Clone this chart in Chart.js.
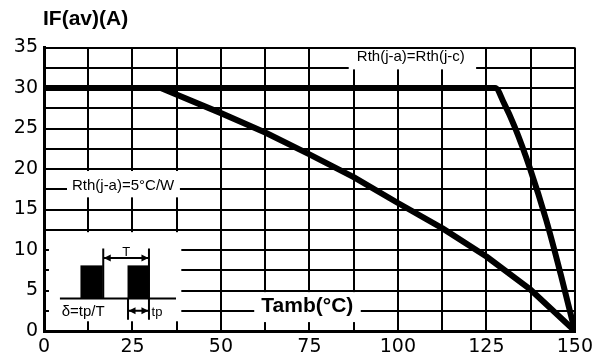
<!DOCTYPE html>
<html>
<head>
<meta charset="utf-8">
<title>IF(av) vs Tamb</title>
<script src="https://cdn.jsdelivr.net/npm/chart.js@4.4.1/dist/chart.umd.min.js"></script>
<style>
    html, body { margin: 0; padding: 0; background: #fff; }
    #wrap { width: 598px; height: 362px; position: relative; }
</style>
</head>
<body>
<div id="wrap"><canvas id="derating"></canvas></div>
<script>
// Kurva derating: Rth(j-a)=Rth(j-c)
var tambInfinite = [0, 127.5, 130, 133, 137.3, 141.9, 146, 150];
var ifInfinite = [30, 30, 28.1, 25.2, 20.1, 13.7, 7, 0];

// Kurva derating: Rth(j-a)=5°C/W
var tambRth5 = [0, 33, 50, 62.5, 75, 87.5, 100, 112.5, 125, 137.5, 150];
var ifRth5 = [30, 30, 26.9, 24.5, 21.8, 19, 15.8, 12.7, 9.2, 5.1, 0];

// Label sumbu
var xTickLabels = [0, 25, 50, 75, 100, 125, 150];
var yTickLabels = [0, 5, 10, 15, 20, 25, 30, 35];

var FONT = '"Liberation Sans", Arial, sans-serif';
var TICK_FONT = '"DejaVu Sans", sans-serif';

function toPoints(xs, ys) {
    return xs.map(function (x, i) {
        return { x: x, y: ys[i] };
    });
}

// Kotak putih + teks + diagram pulsa, digambar di atas grid tapi di bawah kurva
var annotations = {
    id: "annotations",
    beforeDatasetsDraw: function (chart) {
        var ctx = chart.ctx;
        var xs = chart.scales.x;
        var ys = chart.scales.y;
        var px = function (v) { return xs.getPixelForValue(v); };
        var py = function (v) { return ys.getPixelForValue(v); };

        ctx.save();
        ctx.fillStyle = "#fff";
        // area kosong di balik teks dan diagram
        ctx.fillRect(px(86.1), py(35) + 1.5, px(122.1) - px(86.1), py(32.3) - py(35) - 1.5);
        ctx.fillRect(px(6.5), py(19.75), px(38.4) - px(6.5), py(16.5) - py(19.75));
        ctx.fillRect(px(59.4), py(4.8), px(89.5) - px(59.4), py(1.1) - py(4.8));
        ctx.fillRect(px(1.4), py(12.2), px(38.8) - px(1.4), py(1.2) - py(12.2));

        ctx.fillStyle = "#000";
        ctx.textBaseline = "alphabetic";
        ctx.textAlign = "left";
        ctx.font = "15px " + FONT;
        ctx.fillText("Rth(j-a)=Rth(j-c)", px(88.4), py(33.3));
        ctx.fillText("Rth(j-a)=5°C/W", px(7.9), py(17.4));

        ctx.font = "bold 21px " + FONT;
        ctx.fillText("Tamb(°C)", px(61.4), py(2.4));
        ctx.fillText("IF(av)(A)", chart.chartArea.left - 1, chart.chartArea.top - 22.5);

        // diagram pulsa
        ctx.strokeStyle = "#000";
        ctx.lineWidth = 2;
        var base = py(4.0);
        var top = py(8.1);
        ctx.beginPath();
        ctx.moveTo(px(4.5), base);
        ctx.lineTo(px(37.3), base);
        ctx.stroke();
        ctx.fillRect(px(10.3), top, px(16.6) - px(10.3), base - top);
        ctx.fillRect(px(23.6), top, px(29.8) - px(23.6), base - top);

        ctx.beginPath();
        ctx.moveTo(px(16.6) + 0.5, py(10.2));
        ctx.lineTo(px(16.6) + 0.5, base);
        ctx.moveTo(px(29.8) - 0.5, py(10.2));
        ctx.lineTo(px(29.8) - 0.5, py(1.4));
        ctx.moveTo(px(23.6) + 0.5, base);
        ctx.lineTo(px(23.6) + 0.5, py(1.4));
        ctx.stroke();

        arrow(ctx, px(16.6) + 1, px(29.8) - 1, py(9.0));
        arrow(ctx, px(23.6) + 1, px(29.8) - 1, py(2.5));

        ctx.font = "13px " + FONT;
        ctx.textAlign = "center";
        ctx.fillText("T", px(23.2), py(9.3));
        ctx.textAlign = "left";
        ctx.fillText("tp", px(30.4), py(1.9));
        ctx.font = "15px " + FONT;
        ctx.fillText("δ=tp/T", px(5.0), py(1.8));
        ctx.restore();
    },
};

// panah dua arah horizontal
function arrow(ctx, x1, x2, y) {
    ctx.beginPath();
    ctx.moveTo(x1, y);
    ctx.lineTo(x2, y);
    ctx.stroke();
    ctx.beginPath();
    ctx.moveTo(x1, y);
    ctx.lineTo(x1 + 7, y - 3.5);
    ctx.lineTo(x1 + 7, y + 3.5);
    ctx.closePath();
    ctx.moveTo(x2, y);
    ctx.lineTo(x2 - 7, y - 3.5);
    ctx.lineTo(x2 - 7, y + 3.5);
    ctx.closePath();
    ctx.fill();
}

var ctx = document.getElementById("derating").getContext("2d");
var chart = new Chart(ctx, {
    type: "scatter",
    data: {
        datasets: [
            {
                label: "Rth(j-a)=Rth(j-c)",
                data: toPoints(tambInfinite, ifInfinite),
                showLine: true,
                borderColor: "#000",
                borderWidth: 6,
                borderJoinStyle: "round",
                cubicInterpolationMode: "monotone",
                pointRadius: 0,
            },
            {
                label: "Rth(j-a)=5°C/W",
                data: toPoints(tambRth5, ifRth5),
                showLine: true,
                borderColor: "#000",
                borderWidth: 6,
                borderJoinStyle: "round",
                tension: 0,
                pointRadius: 0,
            },
        ],
    },
    options: {
        responsive: true,
        maintainAspectRatio: false,
        animation: false,
        layout: {
            padding: { top: 47.5, right: 21, left: 0, bottom: 0 },
        },
        plugins: {
            legend: { display: false },
            tooltip: { enabled: false },
        },
        scales: {
            x: {
                type: "linear",
                min: 0,
                max: 150,
                afterFit: function (scale) { scale.height = 31; },
                ticks: {
                    stepSize: 12.5,
                    autoSkip: false,
                    maxRotation: 0,
                    padding: 5,
                    color: "#000",
                    font: { family: TICK_FONT, size: 19 },
                    callback: function (v) {
                        return xTickLabels.indexOf(v) >= 0 ? String(v) : "";
                    },
                },
                grid: { color: "#000", lineWidth: 2, drawTicks: false },
                border: { color: "#000", width: 3 },
            },
            y: {
                min: 0,
                max: 35,
                afterFit: function (scale) { scale.width = 44; },
                ticks: {
                    stepSize: 2.5,
                    autoSkip: false,
                    padding: 6,
                    color: "#000",
                    font: { family: TICK_FONT, size: 19 },
                    callback: function (v) {
                        return yTickLabels.indexOf(v) >= 0 ? String(v) : "";
                    },
                },
                grid: { color: "#000", lineWidth: 2, drawTicks: false },
                border: { color: "#000", width: 3 },
            },
        },
    },
    plugins: [annotations],
});
</script>
</body>
</html>
